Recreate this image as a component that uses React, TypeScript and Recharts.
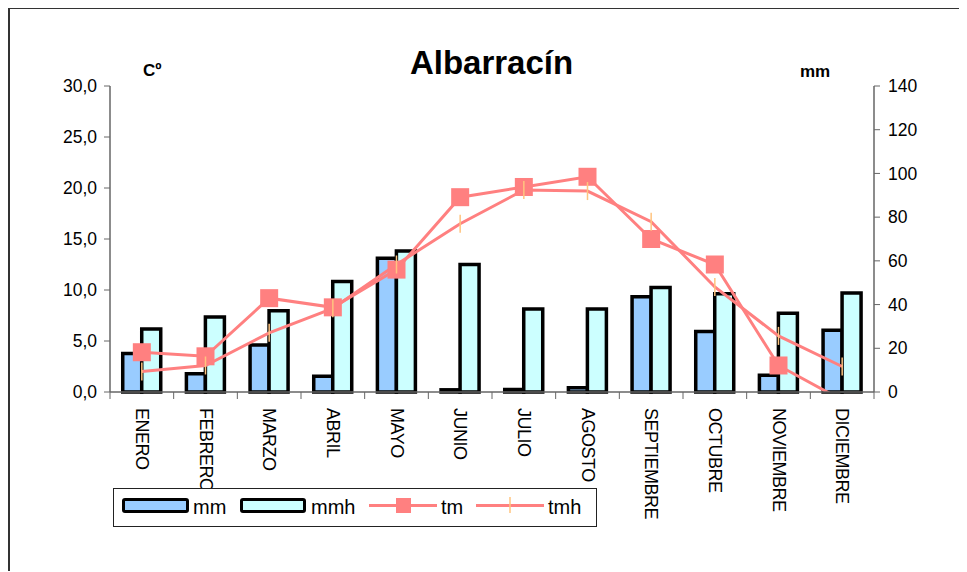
import React from "react"
import {
  ComposedChart,
  Bar,
  Line,
  XAxis,
  YAxis,
} from "recharts"

// Albarracín: precipitation (mm) and temperature (ºC) per month
const months = [
  "ENERO",
  "FEBRERO",
  "MARZO",
  "ABRIL",
  "MAYO",
  "JUNIO",
  "JULIO",
  "AGOSTO",
  "SEPTIEMBRE",
  "OCTUBRE",
  "NOVIEMBRE",
  "DICIEMBRE",
]
const mm = [17.6, 8.3, 21.5, 7.2, 61.2, 1.0, 1.2, 2.0, 43.6, 27.7, 7.7, 28.2]
const mmh = [28.8, 34.3, 37.2, 50.6, 64.5, 58.3, 38.0, 38.0, 47.8, 45.0, 36.0, 45.3]
const tm = [3.9, 3.5, 9.2, 8.3, 12.0, 19.1, 20.1, 21.1, 15.0, 12.5, 2.6, -0.8]
const tmh = [2.0, 2.6, 5.8, 8.2, 12.5, 16.5, 19.8, 19.7, 16.7, 10.3, 5.5, 2.5]

const tempTicks = [0, 5, 10, 15, 20, 25, 30]
const mmTicks = [0, 20, 40, 60, 80, 100, 120, 140]

const data = months.map((mes, i) => ({
  mes,
  mm: mm[i],
  mmh: mmh[i],
  tm: tm[i],
  tmh: tmh[i],
}))

const W = 957
const H = 562
const PLOT_LEFT = 100
const PLOT_RIGHT = 864
const BAND = (PLOT_RIGHT - PLOT_LEFT) / months.length

const AXIS = "#666666"
const LINE = "#FF8080"
const TICK_MARK = "#FFC47F"
const FONT = '"Liberation Sans", Arial, sans-serif'

const MonthTick = (props: any) => {
  const { x, y, payload, index } = props
  const half = BAND / 2
  return (
    <g>
      <line x1={x - half} y1={y} x2={x - half} y2={y + 7} stroke={AXIS} />
      {index === months.length - 1 && (
        <line x1={x + half} y1={y} x2={x + half} y2={y + 7} stroke={AXIS} />
      )}
      <text
        transform={`translate(${x},${y + 16}) rotate(90)`}
        textAnchor="start"
        dominantBaseline="central"
        fontSize={18}
        letterSpacing={-0.5}
        fill="#000"
      >
        {payload.value}
      </text>
    </g>
  )
}

const SquareDot = (props: any) => {
  const { cx, cy, value, index } = props
  if (value == null || value < 0) return <g key={`sq-${index}`} />
  return <rect key={`sq-${index}`} x={cx - 9} y={cy - 9} width={18} height={18} fill={LINE} />
}

const DashDot = (props: any) => {
  const { cx, cy, index } = props
  return (
    <line
      key={`dd-${index}`}
      x1={cx}
      y1={cy - 9}
      x2={cx}
      y2={cy + 9}
      stroke={TICK_MARK}
      strokeWidth={1.5}
    />
  )
}

export default function App() {
  return (
    <div
      style={{
        position: "relative",
        width: 959,
        height: 564,
        marginTop: -1,
        boxSizing: "border-box",
        borderTop: "2px solid #333",
        borderLeft: "2px solid #333",
        fontFamily: FONT,
        background: "#fff",
      }}
    >
      <ComposedChart
        width={W}
        height={H}
        data={data}
        margin={{ top: 77, right: 33, bottom: 39, left: 40 }}
        barCategoryGap="20%"
        barGap={0}
      >
        <XAxis
          dataKey="mes"
          interval={0}
          height={140}
          tickSize={0}
          tickMargin={0}
          tickLine={false}
          axisLine={{ stroke: AXIS, strokeWidth: 1.5 }}
          tick={<MonthTick />}
        />
        <YAxis
          yAxisId="t"
          orientation="left"
          width={60}
          domain={[0, 30]}
          ticks={tempTicks}
          allowDataOverflow
          tickFormatter={(v: number) => v.toFixed(1).replace(".", ",")}
          tick={{ fill: "#000", fontSize: 17.5 }}
          tickSize={6}
          tickMargin={7}
          tickLine={{ stroke: AXIS }}
          axisLine={{ stroke: AXIS, strokeWidth: 1.5 }}
        />
        <YAxis
          yAxisId="mm"
          orientation="right"
          width={60}
          domain={[0, 140]}
          ticks={mmTicks}
          tick={{ fill: "#000", fontSize: 17.5 }}
          tickSize={6}
          tickMargin={8}
          tickLine={{ stroke: AXIS }}
          axisLine={{ stroke: AXIS, strokeWidth: 1.5 }}
        />
        <Bar
          yAxisId="mm"
          dataKey="mm"
          fill="#99CCFF"
          stroke="#000"
          strokeWidth={3.5}
          isAnimationActive={false}
        />
        <Bar
          yAxisId="mm"
          dataKey="mmh"
          fill="#CCFFFF"
          stroke="#000"
          strokeWidth={3.5}
          isAnimationActive={false}
        />
        <Line
          yAxisId="t"
          dataKey="tm"
          type="linear"
          stroke={LINE}
          strokeWidth={3}
          dot={SquareDot}
          activeDot={false}
          isAnimationActive={false}
        />
        <Line
          yAxisId="t"
          dataKey="tmh"
          type="linear"
          stroke={LINE}
          strokeWidth={3}
          dot={DashDot}
          activeDot={false}
          isAnimationActive={false}
        />
      </ComposedChart>

      <svg
        width={W}
        height={H}
        style={{ position: "absolute", left: 0, top: 0, pointerEvents: "none" }}
        fontFamily={FONT}
      >
        <text x={481.5} y={65} textAnchor="middle" fontSize={33} fontWeight="bold">
          Albarracín
        </text>
        <text x={133} y={67} fontSize={17} fontWeight="bold">
          Cº
        </text>
        <text x={790} y={68} fontSize={17} fontWeight="bold">
          mm
        </text>

        {/* legend */}
        <rect x={103.5} y={479.5} width={483} height={38} fill="#fff" stroke="#222" />
        <rect x={113.5} y={490.5} width={64} height={12} rx={1.5} fill="#99CCFF" stroke="#000" strokeWidth={3} />
        <text x={183} y={505} fontSize={20}>mm</text>
        <rect x={231.5} y={490.5} width={63} height={12} rx={1.5} fill="#CCFFFF" stroke="#000" strokeWidth={3} />
        <text x={301} y={505} fontSize={20}>mmh</text>
        <line x1={359} y1={496.5} x2={427} y2={496.5} stroke={LINE} strokeWidth={3} />
        <rect x={386} y={489} width={15} height={15} fill={LINE} />
        <text x={431} y={505} fontSize={20}>tm</text>
        <line x1={466} y1={496.5} x2={534} y2={496.5} stroke={LINE} strokeWidth={3} />
        <line x1={500} y1={488} x2={500} y2={504} stroke={TICK_MARK} strokeWidth={1.5} />
        <text x={538} y={505} fontSize={20}>tmh</text>
      </svg>
    </div>
  )
}
